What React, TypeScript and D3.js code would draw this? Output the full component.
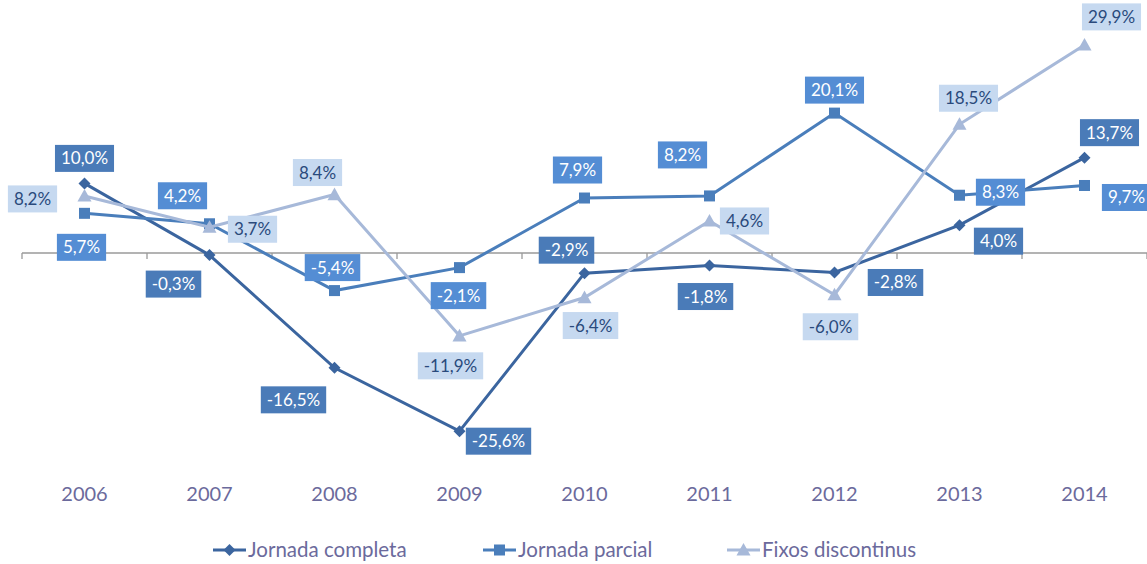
import React from "react";
import * as d3 from "d3";

const years = ["2006", "2007", "2008", "2009", "2010", "2011", "2012", "2013", "2014"];
const jornadaCompleta = [10.0, -0.3, -16.5, -25.6, -2.9, -1.8, -2.8, 4.0, 13.7];
const jornadaParcial = [5.7, 4.2, -5.4, -2.1, 7.9, 8.2, 20.1, 8.3, 9.7];
const fixosDiscontinus = [8.2, 3.7, 8.4, -11.9, -6.4, 4.6, -6.0, 18.5, 29.9];
const seriesNames = ["Jornada completa", "Jornada parcial", "Fixos discontinus"];

// label offsets (px) relative to each point
const offCompleta = [[0, -25], [-36, 29], [-41, 32], [39, 10], [-18, -23], [-4, 31], [61, 10], [39, 16], [25, -25]];
const offParcial = [[-3, 34], [-27, -28], [-2, -23], [-1, 28], [-7, -28], [-27, -41], [0, -23], [41, -3], [42, 12]];
const offFixos = [[-52, 3], [43, 2], [-17, -22], [-9, 30], [6, 28], [35, 0], [-4, 32], [9, -26], [27, -28]];

const W = 1147, H = 564;

function fmt(v: number) {
  return v.toFixed(1).replace(".", ",") + "%";
}

const styles = [
  { line: "#3b659f", box: "#4a7bb8", text: "#ffffff", marker: "diamond" },
  { line: "#4a7ebb", box: "#548dd4", text: "#ffffff", marker: "square" },
  { line: "#a7b9d9", box: "#c6d9f0", text: "#2a4a7c", marker: "triangle" },
];

const FONT = "Lato, 'Open Sans', sans-serif";
const LABEL_SIZE = 17;

let ctx: CanvasRenderingContext2D | null = null;
function measure(t: string, size: number) {
  if (!ctx) ctx = document.createElement("canvas").getContext("2d");
  if (!ctx) return t.length * size * 0.55;
  ctx.font = `${size}px Lato`;
  return ctx.measureText(t).width;
}

function Marker({ type, x, y, color }: { type: string; x: number; y: number; color: string }) {
  if (type === "diamond") {
    const s = 6;
    return <path d={`M${x},${y - s}L${x + s},${y}L${x},${y + s}L${x - s},${y}Z`} fill={color} />;
  }
  if (type === "square") {
    const s = 5.5;
    return <rect x={x - s} y={y - s} width={2 * s} height={2 * s} fill={color} />;
  }
  const s = 7;
  return <path d={`M${x},${y - s}L${x + s},${y + s * 0.8}L${x - s},${y + s * 0.8}Z`} fill={color} />;
}

export default function App() {
  const x = d3.scalePoint<string>().domain(years).range([22, 1147]).padding(0.5);
  const y = d3.scaleLinear().domain([-30, 30]).range([461.8, 44.2]);
  const step = x.step();
  const data = [jornadaCompleta, jornadaParcial, fixosDiscontinus];
  const offs = [offCompleta, offParcial, offFixos];
  const line = d3
    .line<number>()
    .x((_, i) => x(years[i])!)
    .y((d) => y(d));
  const boundaries = d3.range(years.length + 1).map((i) => 22 + i * step);
  const legendX = [213, 483, 727];

  return (
    <svg width={W} height={H} style={{ position: "absolute", left: 0, top: 0 }}>
      <rect width={W} height={H} fill="#fff" />
      <line x1={22} x2={1147} y1={y(0)} y2={y(0)} stroke="#9a9a9a" strokeWidth={1.3} />
      {boundaries.map((b, i) => (
        <line key={i} x1={b} x2={b} y1={y(0)} y2={y(0) + 6} stroke="#9a9a9a" strokeWidth={1.3} />
      ))}
      {years.map((yr) => (
        <text key={yr} x={x(yr)} y={501} textAnchor="middle" fontFamily={FONT} fontSize={20} fill="#6b6a9c">
          {yr}
        </text>
      ))}
      {data.map((d, si) => (
        <g key={si}>
          <path d={line(d)!} fill="none" stroke={styles[si].line} strokeWidth={3} />
          {d.map((v, i) => (
            <Marker key={i} type={styles[si].marker} x={x(years[i])!} y={y(v)} color={styles[si].line} />
          ))}
        </g>
      ))}
      {data.map((d, si) => (
        <g key={"l" + si}>
          {d.map((v, i) => {
            const cx = x(years[i])! + offs[si][i][0];
            const cy = y(v) + offs[si][i][1];
            const txt = fmt(v);
            const w = measure(txt, LABEL_SIZE) + 12;
            return (
              <g key={i}>
                <rect x={cx - w / 2} y={cy - 13.5} width={w} height={27} fill={styles[si].box} />
                <text x={cx} y={cy + 6} textAnchor="middle" fontFamily={FONT} fontSize={LABEL_SIZE} fill={styles[si].text}>
                  {txt}
                </text>
              </g>
            );
          })}
        </g>
      ))}
      {seriesNames.map((n, si) => (
        <g key={n}>
          <line x1={legendX[si]} x2={legendX[si] + 33} y1={550} y2={550} stroke={styles[si].line} strokeWidth={3} />
          <Marker type={styles[si].marker} x={legendX[si] + 16.5} y={550} color={styles[si].line} />
          <text x={legendX[si] + 35} y={557} fontFamily={FONT} fontSize={20.5} fill="#6b6a9c">
            {n}
          </text>
        </g>
      ))}
    </svg>
  );
}
